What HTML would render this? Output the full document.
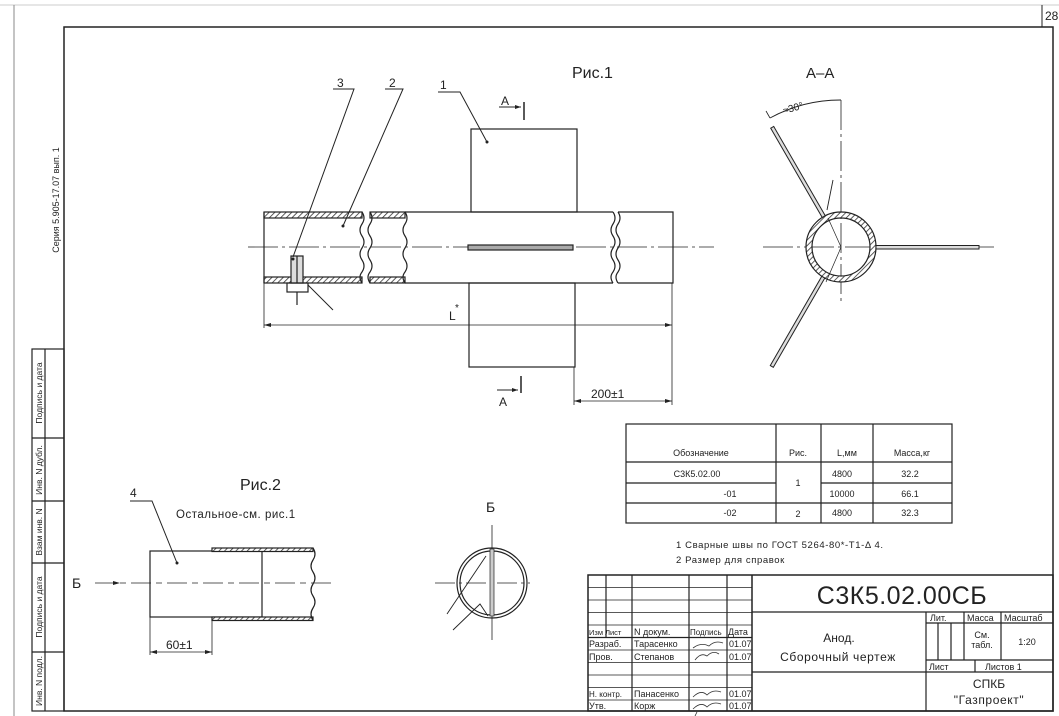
<!DOCTYPE html>
<html><head><meta charset="utf-8"><style>
html,body{margin:0;padding:0;background:#fff;}
svg{display:block;}
text{font-family:"Liberation Sans",sans-serif;fill:#222;}
</style></head><body>
<svg width="1059" height="716" viewBox="0 0 1059 716" xmlns="http://www.w3.org/2000/svg">
<defs>
<pattern id="h" width="4" height="4" patternUnits="userSpaceOnUse" patternTransform="rotate(45)">
<rect width="4" height="4" fill="#fff"/><line x1="0" y1="0" x2="0" y2="4" stroke="#333" stroke-width="1.6"/>
</pattern>
</defs>
<g stroke="#222" fill="none" stroke-width="1.2">
<line x1="0" y1="5" x2="1059" y2="5" stroke="#ccc" stroke-width="1"/>
<line x1="14" y1="5" x2="14" y2="716" stroke="#888" stroke-width="1"/>
<line x1="1042" y1="5" x2="1042" y2="27" stroke-width="1"/>
<rect x="64" y="27" width="989" height="684" stroke-width="1.5"/>
<rect x="32" y="349" width="32" height="362"/>
<line x1="45" y1="349" x2="45" y2="711"/>
<line x1="32" y1="438" x2="64" y2="438"/>
<line x1="32" y1="501" x2="64" y2="501"/>
<line x1="32" y1="563" x2="64" y2="563"/>
<line x1="32" y1="652" x2="64" y2="652"/>
</g>
<text x="1045" y="20" font-size="12">28</text>
<g font-size="8.5">
<text transform="translate(42,393) rotate(-90)" text-anchor="middle">Подпись и дата</text>
<text transform="translate(42,470) rotate(-90)" text-anchor="middle">Инв. N дубл.</text>
<text transform="translate(42,532) rotate(-90)" text-anchor="middle">Взам инв. N</text>
<text transform="translate(42,607) rotate(-90)" text-anchor="middle">Подпись и дата</text>
<text transform="translate(42,681) rotate(-90)" text-anchor="middle">Инв. N подл.</text>
</g>
<text transform="translate(59,200) rotate(-90)" text-anchor="middle" font-size="9">Серия 5.905-17.07 вып. 1</text>

<text x="572" y="78" font-size="16">Рис.1</text>
<g stroke="#222" fill="none" stroke-width="1.2">
<rect x="471" y="129" width="106" height="83"/>
<rect x="469" y="283" width="106" height="84"/>
<rect x="264" y="212" width="98" height="6" fill="url(#h)"/>
<rect x="264" y="277" width="98" height="6" fill="url(#h)"/>
<line x1="264" y1="212" x2="264" y2="283"/>
<path d="M362,212 q4,6 0,12 q-4,6 0,12 q4,6 0,12 q-4,6 0,12 q4,6 0,12 q-4,5 0,11"/>
<rect x="370" y="212" width="35" height="6" fill="url(#h)"/>
<rect x="370" y="277" width="35" height="6" fill="url(#h)"/>
<path d="M370,212 q4,6 0,12 q-4,6 0,12 q4,6 0,12 q-4,6 0,12 q4,6 0,12 q-4,5 0,11"/>
<path d="M405,212 q4,6 0,12 q-4,6 0,12 q4,6 0,12 q-4,6 0,12 q4,6 0,12 q-4,5 0,11"/>
<line x1="405" y1="212" x2="613" y2="212"/>
<line x1="405" y1="283" x2="613" y2="283"/>
<path d="M613,212 q4,6 0,12 q-4,6 0,12 q4,6 0,12 q-4,6 0,12 q4,6 0,12 q-4,5 0,11"/>
<path d="M618,212 q4,6 0,12 q-4,6 0,12 q4,6 0,12 q-4,6 0,12 q4,6 0,12 q-4,5 0,11"/>
<polyline points="618,212 673,212 673,283 618,283"/>
<line x1="248" y1="247" x2="714" y2="247" stroke-width="0.8" stroke-dasharray="30,4,3,4"/>
<rect x="468" y="245" width="105" height="5" fill="#aaa"/>
<rect x="291" y="256" width="12" height="27" fill="#ddd"/>
<line x1="297" y1="256" x2="297" y2="283"/>
<rect x="287" y="283" width="21" height="9"/>
<line x1="297" y1="292" x2="297" y2="305"/>
<line x1="308" y1="285" x2="333" y2="310" stroke-width="1"/>
<polyline points="333,89 354,89 293,257" stroke-width="1"/>
<polyline points="385,89 403,89 343,226" stroke-width="1"/>
<polyline points="438,92 460,92 487,142" stroke-width="1"/>
<line x1="499" y1="107" x2="521" y2="107" stroke-width="1"/>
<line x1="524" y1="102" x2="524" y2="120" stroke-width="1.5"/>
<line x1="497" y1="390" x2="518" y2="390" stroke-width="1"/>
<line x1="521" y1="376" x2="521" y2="393" stroke-width="1.5"/>
<line x1="264" y1="283" x2="264" y2="328" stroke-width="0.8"/>
<line x1="672" y1="283" x2="672" y2="405" stroke-width="0.8"/>
<line x1="264" y1="325" x2="672" y2="325" stroke-width="0.8"/>
<line x1="574" y1="367" x2="574" y2="405" stroke-width="0.8"/>
<line x1="574" y1="401" x2="672" y2="401" stroke-width="0.8"/>
</g>
<g fill="#222">
<path d="M521,107 l-6,-2 v4z"/><path d="M518,390 l-6,-2 v4z"/>
<path d="M264,325 l7,-2 v4z"/><path d="M672,325 l-7,-2 v4z"/>
<path d="M574,401 l7,-2 v4z"/><path d="M672,401 l-7,-2 v4z"/>
<circle cx="487" cy="142" r="1.5"/><circle cx="343" cy="226" r="1.5"/><circle cx="293" cy="259" r="1.5"/>
<circle cx="177" cy="563" r="1.5"/>
</g>
<g font-size="12">
<text x="337" y="87">3</text><text x="389" y="87">2</text><text x="440" y="89">1</text>
<text x="501" y="105">A</text><text x="499" y="406">A</text>
<text x="449" y="320">L</text><text x="455" y="311" font-size="10">*</text>
<text x="591" y="398">200±1</text>
</g>

<text x="806" y="78" font-size="15">A–A</text>
<g stroke="#222" fill="none" stroke-width="1.2">
<line x1="763" y1="247" x2="994" y2="247" stroke-width="0.8" stroke-dasharray="30,4,3,4"/>
<line x1="841" y1="100" x2="841" y2="305" stroke-width="0.8" stroke-dasharray="30,4,3,4"/>
<circle cx="841" cy="247" r="32" stroke="url(#h)" stroke-width="6"/>
<circle cx="841" cy="247" r="35"/>
<circle cx="841" cy="247" r="29"/>
<rect x="876" y="245.5" width="103" height="3.5" fill="#ddd" stroke-width="1"/>
<g transform="rotate(-120 841 247)"><rect x="876" y="245.5" width="103" height="3.5" fill="#ddd" stroke-width="1"/></g>
<g transform="rotate(120 841 247)"><rect x="876" y="245.5" width="103" height="3.5" fill="#ddd" stroke-width="1"/></g>
<path d="M770,118 A147,147 0 0 1 841,100" stroke-width="0.9"/>
<line x1="770" y1="118" x2="766" y2="111" stroke-width="0.8"/>
<line x1="833" y1="180" x2="827" y2="210" stroke-width="0.9"/>
<polyline points="828,218 841,247 839,252 826,282" stroke-width="0.7"/>
</g>
<text transform="translate(784,114) rotate(-16)" font-size="10">≈30°</text>

<text x="240" y="490" font-size="16">Рис.2</text>
<text x="176" y="518" font-size="11.5" letter-spacing="0.5">Остальное-см. рис.1</text>
<text x="130" y="497" font-size="12">4</text>
<text x="72" y="588" font-size="14">Б</text>
<g stroke="#222" fill="none" stroke-width="1.2">
<polyline points="130,501 152,501 177,563" stroke-width="1"/>
<rect x="150" y="551" width="112" height="66"/>
<rect x="212" y="548" width="101" height="3.5" fill="url(#h)"/>
<rect x="212" y="617" width="101" height="3.5" fill="url(#h)"/>
<path d="M313,548 q4,6 0,12 q-4,6 0,12 q4,6 0,12 q-4,6 0,12 q4,6 0,12 q-4,6 0,12.5"/>
<line x1="95" y1="583" x2="335" y2="583" stroke-width="0.8" stroke-dasharray="20,5,6,5"/>
<line x1="150" y1="617" x2="150" y2="655" stroke-width="0.8"/>
<line x1="212" y1="620" x2="212" y2="655" stroke-width="0.8"/>
<line x1="150" y1="652" x2="212" y2="652" stroke-width="0.8"/>
<line x1="435" y1="583" x2="530" y2="583" stroke-width="0.8" stroke-dasharray="20,4,3,4"/>
<line x1="492" y1="525" x2="492" y2="640" stroke-width="0.8"/>
<circle cx="492" cy="583" r="35"/>
<circle cx="492" cy="583" r="32"/>
<rect x="490" y="549" width="4" height="67" fill="#ccc" stroke-width="0.7"/>
<line x1="447" y1="614" x2="486" y2="556" stroke-width="0.9"/>
<polyline points="453,630 480,604 488,616" stroke-width="0.9"/>
</g>
<g fill="#222"><path d="M120,583 l-7,-2 v4z"/><path d="M150,652 l7,-2 v4z"/><path d="M212,652 l-7,-2 v4z"/></g>
<text x="166" y="649" font-size="12">60±1</text>
<text x="486" y="512" font-size="14">Б</text>

<g stroke="#222" fill="none" stroke-width="1.2">
<rect x="626" y="424" width="326" height="99"/>
<line x1="776" y1="424" x2="776" y2="523"/>
<line x1="821" y1="424" x2="821" y2="523"/>
<line x1="873" y1="424" x2="873" y2="523"/>
<line x1="626" y1="462" x2="952" y2="462"/>
<line x1="626" y1="483" x2="776" y2="483"/>
<line x1="821" y1="483" x2="952" y2="483"/>
<line x1="626" y1="503" x2="952" y2="503"/>
</g>
<g font-size="9" text-anchor="middle">
<text x="701" y="456">Обозначение</text><text x="798" y="456">Рис.</text>
<text x="847" y="456">L,мм</text><text x="912" y="456">Масса,кг</text>
<text x="697" y="477">С3К5.02.00</text><text x="798" y="486">1</text>
<text x="842" y="477">4800</text><text x="910" y="477">32.2</text>
<text x="730" y="497">-01</text><text x="842" y="497">10000</text><text x="910" y="497">66.1</text>
<text x="730" y="516">-02</text><text x="798" y="517">2</text>
<text x="842" y="516">4800</text><text x="910" y="516">32.3</text>
</g>
<text x="676" y="548" font-size="9.5" letter-spacing="0.6">1 Сварные швы по ГОСТ 5264-80*-Т1-Δ 4.</text>
<text x="676" y="563" font-size="9.5" letter-spacing="0.6">2 Размер для справок</text>

<g stroke="#222" fill="none" stroke-width="1.2">
<rect x="588" y="575" width="465" height="136" stroke-width="1.5"/>
<line x1="752" y1="575" x2="752" y2="711" stroke-width="1.5"/>
<line x1="588" y1="587.5" x2="752" y2="587.5" stroke-width="0.8"/>
<line x1="588" y1="600" x2="752" y2="600" stroke-width="0.8"/>
<line x1="588" y1="612.5" x2="752" y2="612.5" stroke-width="0.8"/>
<line x1="588" y1="625" x2="752" y2="625" stroke-width="0.8"/>
<line x1="588" y1="637.5" x2="752" y2="637.5" stroke-width="1.3"/>
<line x1="588" y1="650" x2="752" y2="650" stroke-width="0.8"/>
<line x1="588" y1="662.5" x2="752" y2="662.5" stroke-width="0.8"/>
<line x1="588" y1="675" x2="752" y2="675" stroke-width="0.8"/>
<line x1="588" y1="687.5" x2="752" y2="687.5" stroke-width="0.8"/>
<line x1="588" y1="700" x2="752" y2="700" stroke-width="0.8"/>
<line x1="606" y1="575" x2="606" y2="637.5"/>
<line x1="632" y1="575" x2="632" y2="711"/>
<line x1="689" y1="575" x2="689" y2="711"/>
<line x1="727" y1="575" x2="727" y2="711"/>
<line x1="752" y1="612" x2="1053" y2="612" stroke-width="1.3"/>
<line x1="926" y1="612" x2="926" y2="711"/>
<line x1="752" y1="672" x2="1053" y2="672"/>
<line x1="926" y1="623" x2="1053" y2="623"/>
<line x1="926" y1="660" x2="1053" y2="660"/>
<line x1="964" y1="612" x2="964" y2="660"/>
<line x1="1001" y1="612" x2="1001" y2="660"/>
<line x1="938" y1="623" x2="938" y2="660"/>
<line x1="951" y1="623" x2="951" y2="660"/>
<line x1="975" y1="660" x2="975" y2="672"/>
</g>
<text x="902" y="604" font-size="25" text-anchor="middle" letter-spacing="0.5">С3К5.02.00СБ</text>
<g font-size="9">
<text x="589" y="635" font-size="7.5">Изм Лист</text><text x="634" y="635">N докум.</text>
<text x="690" y="635" font-size="8">Подпись</text><text x="728" y="635">Дата</text>
<text x="589" y="647">Разраб.</text><text x="634" y="647">Тарасенко</text><text x="729" y="647">01.07</text>
<text x="589" y="660">Пров.</text><text x="634" y="660">Степанов</text><text x="729" y="660">01.07</text>
<text x="589" y="697" font-size="8">Н. контр.</text><text x="634" y="697">Панасенко</text><text x="729" y="697">01.07</text>
<text x="589" y="709">Утв.</text><text x="634" y="709">Корж</text><text x="729" y="709">01.07</text>
<text x="930" y="621">Лит.</text><text x="967" y="621">Масса</text><text x="1004" y="621">Масштаб</text>
<text x="982" y="638" text-anchor="middle">См.</text><text x="982" y="648" text-anchor="middle">табл.</text>
<text x="1027" y="645" text-anchor="middle">1:20</text>
<text x="929" y="670">Лист</text><text x="985" y="670">Листов 1</text>
</g>
<text x="839" y="642" font-size="12" text-anchor="middle">Анод.</text>
<text x="838" y="661" font-size="12" text-anchor="middle" letter-spacing="0.6">Сборочный чертеж</text>
<text x="989" y="688" font-size="12" text-anchor="middle">СПКБ</text>
<text x="989" y="704" font-size="12" text-anchor="middle" letter-spacing="0.6">"Газпроект"</text>
<g stroke="#333" fill="none" stroke-width="0.8">
<path d="M693,648 q8,-6 16,-2 q6,-6 14,-3"/>
<path d="M695,660 q6,-8 12,-4 q6,-6 12,-2"/>
<path d="M693,697 q8,-8 14,-2 q6,-6 14,-3"/>
<path d="M693,709 q8,-8 14,-2 q6,-6 14,-3 M697,712 l-2,4"/>
</g>
</svg>
</body></html>
